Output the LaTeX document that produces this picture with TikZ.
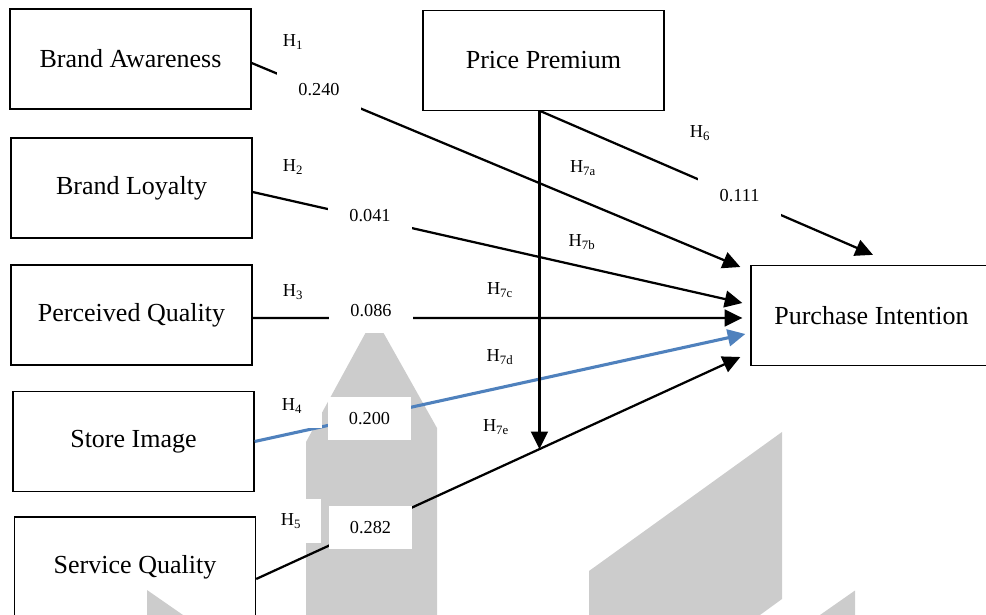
\documentclass[tikz,border=0pt]{standalone}
\usepackage{fontspec}
\setmainfont{Liberation Serif}
\usetikzlibrary{positioning, arrows.meta}
\definecolor{pathblue}{RGB}{79,129,189}
\definecolor{markgray}{RGB}{204,204,204}
\tikzset{
  var/.style={draw, line width=0.9pt, minimum width=6.025cm, minimum height=2.5cm,
              font=\fontsize{18.5}{22}\selectfont, inner sep=0pt},
  lnk/.style={-{Triangle[length=0.44cm, width=0.42cm]}, line width=1.6pt, black},
  lnkb/.style={lnk, draw=pathblue, fill=pathblue, line width=2.2pt},
  hyp/.style={fill=white, font=\fontsize{13}{15}\selectfont, inner sep=0pt,
              minimum width=1.5cm, minimum height=1.1cm},
  hsub/.style={font=\fontsize{13}{15}\selectfont, inner sep=1pt},
  coef/.style={fill=white, font=\fontsize{13}{15}\selectfont, inner sep=0pt,
               minimum width=2.075cm, minimum height=1.075cm},
  mark/.style={fill=markgray, draw=none}
}

\begin{document}
\begin{tikzpicture}[x=0.025cm, y=-0.025cm]
  \useasboundingbox (0,0) rectangle (986,615);
  % watermark
  \fill[markgray] (366,332) -- (383,332) -- (437,428) -- (437,615) -- (306,615) -- (306,442) -- cycle;
  \fill[markgray] (589,571) -- (782,432) -- (782,599) -- (760,615) -- (589,615) -- cycle;
  \fill[markgray] (820,615) -- (855,590.5) -- (855,615) -- cycle;
  \fill[markgray] (147,590) -- (183,615) -- (147,615) -- cycle;
  % constructs
  \node[var] (ba) at (130.5,59) {Brand Awareness};
  \node[var] (bl) at (131.5,188) {Brand Loyalty};
  \node[var] (pq) at (131.5,315) {Perceived Quality};
  \node[var] (si) at (133.5,441.5) {Store Image};
  \node[var] (sq) at (135,567) {Service Quality};
  \node[var] (pp) at (543.5,60.5) {Price Premium};
  \node[var] (pi) at (871.5,315.5) {Purchase Intention};
  % paths
  \draw[lnk] ([shift={(0,4)}]ba.east) -- ([shift={(-10,-48.5)}]pi.west);
  \draw[lnk] ([shift={(0,4)}]bl.east) -- ([shift={(-8,-12.5)}]pi.west);
  \draw[lnk] ([shift={(0,3)}]pq.east) -- ([shift={(-8,2.5)}]pi.west);
  \draw[lnkb] (si.east) -- ([shift={(-5,18.5)}]pi.west);
  \draw[lnk] ([shift={(0,12)}]sq.east) -- coordinate[pos=0.585] (mod) ([shift={(-10,41.5)}]pi.west);
  \draw[lnk] ([shift={(-3,0)}]pp.south) -- ([shift={(1.5,-10)}]pi.north);
  \draw[lnk] (mod |- pp.south) -- (mod);
  % coefficients
  \node[coef] (c1) at (319,90) {0.240};
  \node[coef] (c2) at (370,215.5) {0.041};
  \node[coef] (c3) at (371,311) {0.086};
  \node[coef] (c4) at (369.5,418.5) {0.200};
  \node[coef] (c5) at (370.5,527.5) {0.282};
  \node[coef] (c6) at (739.5,196) {0.111};
  % hypotheses
  \node[hyp] (h1) at (293,42) {H\textsubscript{1}};
  \node[hyp] (h2) at (293,167) {H\textsubscript{2}};
  \node[hyp] (h3) at (293,292) {H\textsubscript{3}};
  \node[hyp] (h4) at (292,406) {H\textsubscript{4}};
  \node[hyp] (h5) at (291,521) {H\textsubscript{5}};
  \node[hyp] (h6) at (700,133) {H\textsubscript{6}};
  \node[hsub] (h7a) at (583,168) {H\textsubscript{7a}};
  \node[hsub] (h7b) at (582,242) {H\textsubscript{7b}};
  \node[hsub] (h7c) at (500,290) {H\textsubscript{7c}};
  \node[hsub] (h7d) at (500,357) {H\textsubscript{7d}};
  \node[hsub] (h7e) at (496,427) {H\textsubscript{7e}};
\end{tikzpicture}
\end{document}
